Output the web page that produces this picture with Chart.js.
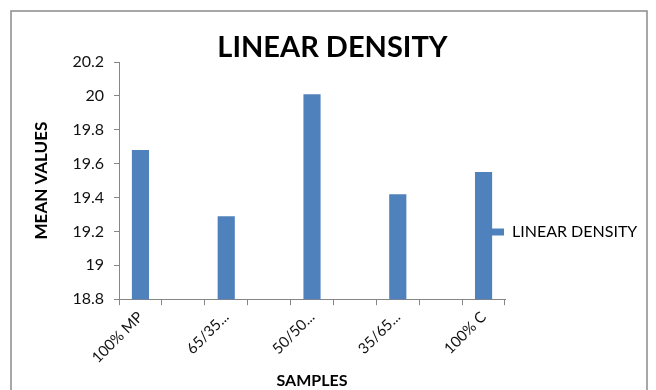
<!DOCTYPE html>
<html>
<head>
<meta charset="utf-8">
<script src="https://cdn.jsdelivr.net/npm/chart.js@4/dist/chart.umd.min.js"></script>
<style>
  html, body { margin: 0; padding: 0; background: #fff; }
  #wrap { width: 656px; height: 390px; position: relative; }
</style>
</head>
<body>
<div id="wrap"><canvas id="c" width="656" height="390"></canvas></div>
<script>
// Sample blends; the empty slots keep the gaps between the bars
const categories = ['100% MP', '', '65/35...', '', '50/50...', '', '35/65...', '', '100% C'];
const linearDensity = [19.68, null, 19.29, null, 20.01, null, 19.42, null, 19.55];
const yTicks = [18.8, 19, 19.2, 19.4, 19.6, 19.8, 20, 20.2];

const FONT = 'Lato';
const AXIS = '#868686';

// White background and the outer chart frame
const framePlugin = {
  id: 'frame',
  beforeDraw(chart) {
    const ctx = chart.ctx;
    ctx.save();
    ctx.fillStyle = '#fff';
    ctx.fillRect(0, 0, chart.width, chart.height);
    ctx.strokeStyle = '#8a8a8a';
    ctx.lineWidth = 1.5;
    ctx.strokeRect(11, 11, 636, 400);
    ctx.restore();
  }
};

// Tuck the legend in against the end of the category axis, a bit below centre,
// and pull the title slightly left of the canvas centre
const placement = {
  id: 'placement',
  afterLayout(chart) {
    const l = chart.legend;
    if (l) {
      const dx = -13, dy = 30;
      l.left += dx; l.right += dx;
      l.top += dy; l.bottom += dy;
    }
    const t = chart.titleBlock;
    if (t) {
      t.left -= 11; t.right -= 11;
    }
  }
};

new Chart(document.getElementById('c'), {
  type: 'bar',
  data: {
    labels: categories,
    datasets: [{
      label: 'LINEAR DENSITY',
      data: linearDensity,
      backgroundColor: '#4F81BD',
      borderWidth: 0,
      barPercentage: 0.4,
      categoryPercentage: 1.0
    }]
  },
  options: {
    responsive: false,
    animation: false,
    devicePixelRatio: 1,
    layout: { padding: { left: 31, right: 0, top: 14, bottom: 0 } },
    plugins: {
      title: {
        display: true,
        text: 'LINEAR DENSITY',
        color: '#000',
        font: { family: FONT, size: 29, weight: 'bold', lineHeight: 1 },
        padding: { top: 19, bottom: 0 }
      },
      legend: {
        position: 'right',
        maxWidth: 151,
        labels: {
          boxWidth: 12,
          boxHeight: 7,
          color: '#000',
          padding: 0,
          font: { family: FONT, size: 16 }
        }
      },
      tooltip: { enabled: false }
    },
    scales: {
      x: {
        offset: true,
        grid: { display: true, offset: true, drawOnChartArea: false, tickLength: 6, color: AXIS },
        border: { color: AXIS },
        ticks: {
          autoSkip: false, minRotation: 45, maxRotation: 45,
          color: '#111', padding: 3,
          font: { family: FONT, size: 15 }
        },
        title: {
          display: true, text: 'SAMPLES', color: '#000',
          font: { family: FONT, size: 16, weight: 'bold' },
          padding: { top: 1, bottom: 0 }
        }
      },
      y: {
        min: 18.8,
        max: 20.2,
        afterBuildTicks(scale) { scale.ticks = yTicks.map(v => ({ value: v })); },
        grid: { drawOnChartArea: false, tickLength: 5, color: AXIS },
        border: { color: AXIS },
        ticks: {
          color: '#111', padding: 10,
          font: { family: FONT, size: 16 },
          callback: v => String(parseFloat(Number(v).toFixed(1)))
        },
        title: {
          display: true, text: 'MEAN VALUES', color: '#000',
          font: { family: FONT, size: 17, weight: 'bold' },
          padding: { top: 0, bottom: 11 }
        }
      }
    }
  },
  plugins: [framePlugin, placement]
});
</script>
</body>
</html>
